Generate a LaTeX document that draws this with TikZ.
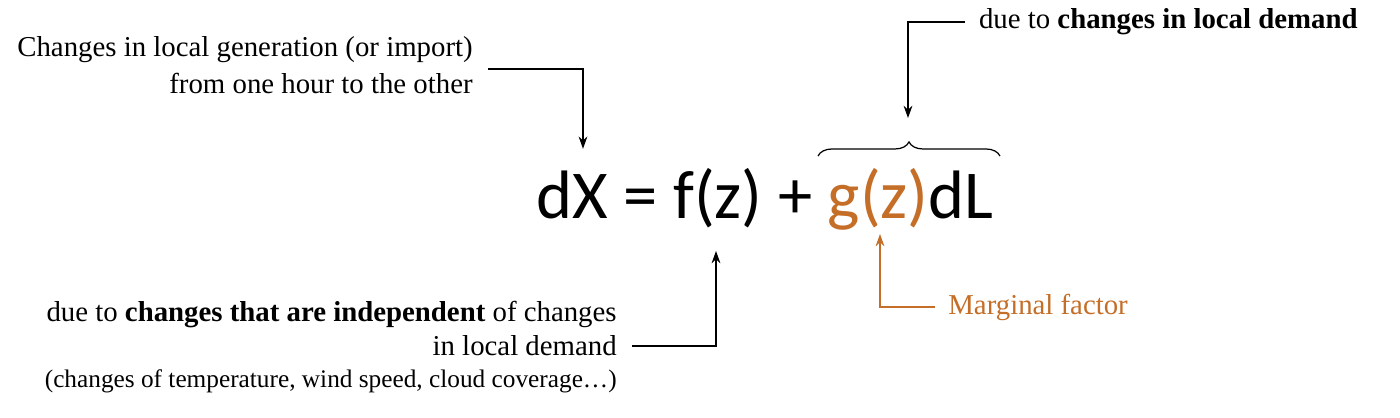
\documentclass[tikz,border=0pt]{standalone}
\usepackage{fontspec}
\setmainfont{Liberation Serif}
\newfontfamily\eqfont{Carlito}
\usetikzlibrary{arrows.meta,decorations.pathreplacing}
\definecolor{orng}{RGB}{196,110,40}
\begin{document}
\begin{tikzpicture}[x=0.02cm,y=-0.02cm,
  lbl/.style={font=\fontsize{16.4}{19}\selectfont,inner sep=0},
  conn/.style={line width=0.7pt,-{Stealth[length=7pt,width=5pt]}}]
\useasboundingbox (0,0) rectangle (1400,417);
\node[lbl,anchor=east] (t1) at (473,50) {Changes in local generation (or import)};
\node[lbl,anchor=east] (t2) at (473,83) {from one hour to the other};
\coordinate (c1) at (488,69);
\node[inner sep=0] (eqa) at (583,150) {};
\draw[conn] (c1) -- (583,69) -- (eqa);
\node[inner sep=0,anchor=base] (eq) at (765,218) {\eqfont\fontsize{39}{44}\selectfont dX = f(z) + \textcolor{orng}{g(z)}dL};
\draw[line width=0.7pt,decorate,decoration={brace,amplitude=8pt}] (818,156) -- (1000,156);
\node[lbl,anchor=east] (t3) at (1358,22) {due to \textbf{changes in local demand}};
\coordinate (c3) at (965,22);
\coordinate (b3) at (908,118);
\draw[conn] (c3) -- (908,22) -- (b3);
\node[lbl,anchor=west,text=orng] (mf) at (948,307) {Marginal factor};
\coordinate (c4) at (935,307);
\coordinate (a4) at (880,234);
\draw[conn,orng] (c4) -- (880,307) -- (a4);
\node[lbl,anchor=east] (t5) at (617,315) {due to \textbf{changes that are independent} of changes};
\node[lbl,anchor=east] (t6) at (617,346) {in local demand};
\node[lbl,anchor=east,font=\fontsize{14.4}{17}\selectfont] (t7) at (617,381) {(changes of temperature, wind speed, cloud coverage…)};
\coordinate (c6) at (632,346);
\coordinate (a6) at (716,251);
\draw[conn] (c6) -- (716,346) -- (a6);
\end{tikzpicture}
\end{document}
